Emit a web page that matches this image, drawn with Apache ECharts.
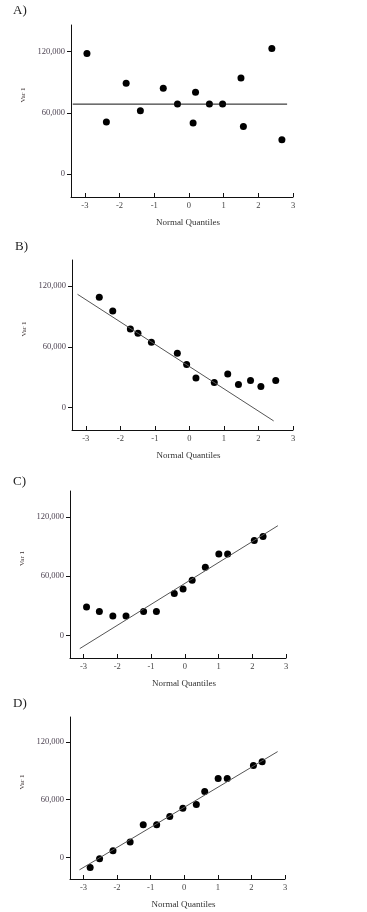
<!DOCTYPE html>
<html>
<head>
<meta charset="utf-8">
<script src="https://cdn.jsdelivr.net/npm/echarts@6/dist/echarts.min.js"></script>
<style>
html,body{margin:0;padding:0;background:#fff;}
#chart{width:367px;height:912px;}
</style>
</head>
<body>
<div id="chart"></div>
<script>
// ---- Data ----
const panelLabels = ['A)', 'B)', 'C)', 'D)'];
const xTicks = [-3, -2, -1, 0, 1, 2, 3];
const yTicks = [0, 60000, 120000];
const xAxisTitle = 'Normal Quantiles';
const yAxisTitle = 'Var 1';

const qA = [-2.94, -2.38, -1.81, -1.40, -0.74, -0.33, 0.12, 0.19, 0.59, 0.97, 1.50, 1.57, 2.39, 2.68];
const vA = [118000, 51000, 89000, 62000, 84000, 68500, 50000, 80000, 68500, 68500, 94000, 46500, 123000, 33500];
const fitAx = [-3.35, 2.83];
const fitAy = [68500, 68500];

const qB = [-2.61, -2.22, -1.71, -1.49, -1.10, -0.35, -0.08, 0.19, 0.72, 1.11, 1.42, 1.77, 2.07, 2.50];
const vB = [109000, 95500, 77500, 73500, 64500, 53500, 42500, 29000, 24500, 33000, 22500, 26500, 20500, 26500];
const fitBx = [-3.24, 2.44];
const fitBy = [112000, -13500];

const qC = [-2.91, -2.53, -2.13, -1.74, -1.22, -0.84, -0.31, -0.05, 0.22, 0.61, 1.01, 1.27, 2.06, 2.32];
const vC = [29000, 24500, 20000, 20000, 24500, 24500, 42500, 47000, 56000, 69000, 82500, 82500, 96000, 100000];
const fitCx = [-3.11, 2.76];
const fitCy = [-13000, 111000];

const qD = [-2.80, -2.52, -2.12, -1.61, -1.22, -0.82, -0.43, -0.04, 0.36, 0.61, 1.01, 1.28, 2.06, 2.32];
const vD = [-10500, -1500, 7000, 16000, 34000, 34000, 42500, 51000, 55000, 68500, 82000, 82000, 95500, 99500];
const fitDx = [-3.12, 2.78];
const fitDy = [-13000, 110000];

// ---- Layout ----
const grids = [
  {left: 71, top: 25, width: 222, height: 172},
  {left: 72, top: 260, width: 221, height: 170},
  {left: 70, top: 491, width: 216, height: 167},
  {left: 70, top: 717, width: 215, height: 162}
];
const labelPos = [[13, 4], [15, 240], [13, 475], [13, 697]];

const pts = [[qA, vA], [qB, vB], [qC, vC], [qD, vD]];
const fits = [[fitAx, fitAy], [fitBx, fitBy], [fitCx, fitCy], [fitDx, fitDy]];

const FONT = '"Liberation Serif", "DejaVu Serif", serif';
const zip = (a, b) => a.map((v, i) => [v, b[i]]);

const option = {
  backgroundColor: '#ffffff',
  animation: false,
  title: panelLabels.map((t, i) => ({
    text: t, left: labelPos[i][0], top: labelPos[i][1], padding: 0,
    textStyle: {fontFamily: FONT, fontSize: 13, fontWeight: 'normal', color: '#222'}
  })),
  grid: grids.map(g => Object.assign({containLabel: false}, g)),
  xAxis: grids.map((g, i) => ({
    type: 'value', gridIndex: i, min: -3.4, max: 3,
    axisLine: {show: true, onZero: false, lineStyle: {color: '#111', width: 1}},
    axisTick: {show: true, inside: true, length: 4, customValues: xTicks, lineStyle: {color: '#111'}},
    axisLabel: {show: true, customValues: xTicks, margin: 4, fontFamily: FONT, fontSize: 8.5, color: '#444'},
    splitLine: {show: false},
    name: xAxisTitle, nameLocation: 'middle', nameGap: 21,
    nameTextStyle: {fontFamily: FONT, fontSize: 9, color: '#333', padding: [0, 0, 0, 12]}
  })),
  yAxis: grids.map((g, i) => ({
    type: 'value', gridIndex: i, min: -22500, max: 146000,
    axisLine: {show: true, onZero: false, lineStyle: {color: '#111', width: 1}},
    axisTick: {show: true, inside: false, length: 4, customValues: yTicks, lineStyle: {color: '#111'}},
    axisLabel: {show: true, customValues: yTicks, margin: 6, fontFamily: FONT, fontSize: 8.5, color: '#4d4352',
      formatter: v => v.toLocaleString('en-US')},
    splitLine: {show: false},
    name: yAxisTitle, nameLocation: 'middle', nameGap: 36, nameRotate: 90,
    nameTextStyle: {fontFamily: FONT, fontSize: 7, color: '#3a2f2f', padding: [0, 0, 0, 32]}
  })),
  series: [].concat(
    pts.map((p, i) => ({
      type: 'scatter', xAxisIndex: i, yAxisIndex: i, data: zip(p[0], p[1]),
      symbol: 'circle', symbolSize: 7, itemStyle: {color: '#000', opacity: 1}, silent: true
    })),
    fits.map((f, i) => ({
      type: 'line', xAxisIndex: i, yAxisIndex: i, data: zip(f[0], f[1]),
      showSymbol: false, symbol: 'none', lineStyle: {color: i === 0 ? '#111' : '#555', width: 1}, silent: true
    }))
  )
};

const chart = echarts.init(document.getElementById('chart'), null, {renderer: 'canvas'});
chart.setOption(option);
</script>
</body>
</html>
